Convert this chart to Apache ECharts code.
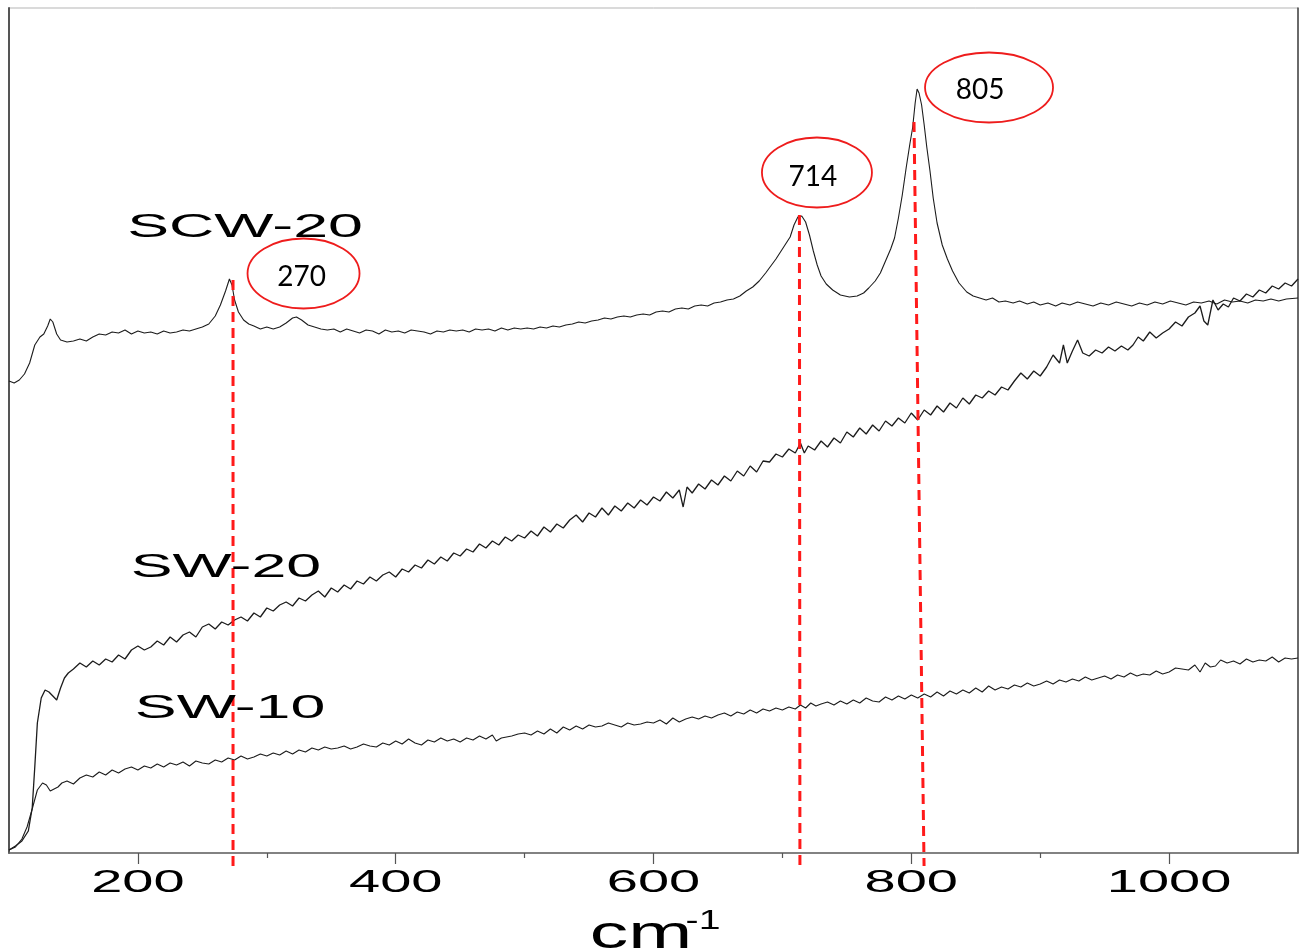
<!DOCTYPE html>
<html>
<head>
<meta charset="utf-8">
<script src="https://cdn.jsdelivr.net/npm/echarts@6/dist/echarts.min.js"></script>
<style>
html, body { margin: 0; padding: 0; background: #fff; }
#chart { width: 1304px; height: 949px; }
</style>
</head>
<body>
<div id="chart"></div>
<script>
// ---- data (wavenumber cm-1, intensity a.u.) ----
const scw20 = [
  [100,472],[104,470],[108,473],[112,479],[116,490],[120,508],[124,516],[127,519],[130,527],[132,534],[134,531],[137,519],[140,513],[145,511],[150,512],[155,514],[160,512],[165,516],[170,519],[175,518],[180,521],[185,520],[190,523],[195,519],[200,522],[205,520],[210,521],[215,519],[220,522],[225,520],[230,521],[235,523],[240,522],[245,524],[250,526],[255,529],[260,537],[264,548],[268,562],[271,574],[273,568],[275,553],[278,541],[282,533],[286,529],[290,527],[295,524],[300,526],[305,524],[310,526],[315,530],[320,535],[323,536],[327,533],[332,528],[337,526],[342,524],[347,523],[352,524],[357,521],[362,524],[367,522],[372,520],[377,523],[382,522],[387,519],[392,523],[397,521],[402,522],[407,520],[412,523],[417,522],[422,521],[427,519],[432,522],[437,521],[442,523],[447,522],[452,523],[457,521],[462,524],[467,523],[472,524],[477,522],[482,525],[487,523],[492,525],[497,524],
  [502,525],[507,524],[512,526],[517,525],[522,527],[527,526],[532,528],[537,529],[542,531],[547,530],[552,532],[557,533],[562,535],[567,534],[572,536],[577,537],[582,536],[587,538],[592,539],[597,538],[602,541],[607,542],[612,541],[617,544],[622,545],[627,544],[632,547],[637,548],[642,547],[647,550],[652,551],[657,553],[662,554],[667,557],[672,562],[677,566],[682,572],[687,580],[691,587],[695,594],[698,600],[702,608],[706,616],[709,628],[712,636],[715,637],[718,631],[721,618],[724,602],[727,588],[730,577],[734,569],[739,563],[745,558],[752,556],[758,557],[763,560],[767,565],[772,572],[776,580],[780,592],[784,604],[787,615],[790,635],[793,658],[796,685],[799,710],[801,725],[803,750],[804.5,764],[806,760],[808,748],[810,728],[812,706],[814.5,682],[817,655],[820,630],[824,608],[828,594],[832,582],[837,570],[843,561],[848,557],[853,555],[858,553],[863,555],[868,551],[873,552],[879,550],[884,552],[890,549],[895,551],[900,548],
  [906,550],[912,547],[917,550],[923,548],[929,551],[935,549],[941,547],[947,550],[953,548],[959,551],[965,549],[971,547],[977,550],[983,548],[989,551],[995,549],[1001,552],[1007,550],[1013,548],[1019,551],[1025,550],[1031,552],[1037,549],[1043,553],[1049,551],[1055,552],[1061,550],[1067,553],[1073,552],[1079,554],[1085,552],[1091,554],[1100,555]
]

const sw20 = [
  [100,3],[105,7],[110,12],[115,22],[118,45],[120,86],[122,130],[125,155],[128,163],[131,161],[134,157],[137,153],[140,165],[143,175],[146,180],[150,184],[155,190],[160,186],[165,192],[170,188],[175,194],[180,191],[185,198],[190,194],[195,203],[200,207],[205,203],[210,206],[215,212],[220,208],[225,216],[230,211],[235,218],[240,221],[245,216],[250,226],[255,229],[260,224],[265,231],[270,228],[275,233],[280,236],[285,232],[290,240],[295,236],[300,245],[305,242],[310,248],[315,251],[320,247],[325,255],[330,252],[335,258],[340,262],[345,256],[350,265],[355,261],[360,268],[365,264],[370,272],[375,269],[380,276],[385,272],[390,278],[395,281],[400,276],
  [405,284],[410,281],[415,288],[420,285],[425,293],[430,289],[435,296],[440,292],[445,300],[450,297],[455,304],[460,301],[465,309],[470,305],[475,312],[480,308],[485,316],[490,312],[495,318],[500,315],[505,322],[510,317],[515,326],[520,321],[525,329],[530,325],[535,333],[540,338],[545,331],[550,340],[555,336],[560,345],[565,338],[570,347],[575,342],[580,350],[585,345],[590,353],[595,348],[600,356],[605,352],[610,361],[615,355],[620,363],[623,346],[626,366],[630,360],[635,369],[640,364],[645,373],[650,368],[655,377],[660,372],[665,382],[670,377],[675,387],[680,381],[685,392],[690,391],[695,399],[700,396],[705,404],[710,400],
  [714,410],[717,400],[720,407],[725,403],[730,412],[735,406],[740,415],[745,410],[750,421],[755,416],[760,425],[765,419],[770,428],[775,422],[780,432],[785,427],[790,435],[795,430],[800,440],[805,433],[810,443],[815,438],[820,447],[825,441],[830,450],[835,445],[840,455],[845,449],[850,458],[855,455],[860,462],[865,458],[870,466],[875,463],[880,472],[885,480],[890,474],[895,482],[900,477],[905,486],[910,498],[915,490],[918,508],[921,490],[925,502],[929,513],[933,500],[938,497],[943,503],[948,500],[953,506],[958,502],[963,507],[968,503],[972,508],[976,516],[980,512],[985,521],[990,515],[995,520],[1000,524],
  [1005,531],[1010,527],[1015,536],[1020,540],[1024,547],[1027,532],[1030,528],[1034,553],[1038,543],[1042,549],[1046,546],[1050,555],[1055,552],[1060,559],[1065,556],[1070,563],[1075,560],[1080,567],[1085,564],[1090,570],[1095,567],[1100,574]
]

const sw10 = [
  [100,3],[105,6],[110,14],[114,26],[118,44],[122,63],[126,70],[129,68],[132,62],[135,64],[138,66],[141,70],[145,72],[150,69],[155,75],[160,78],[165,76],[170,81],[175,78],[180,83],[185,80],[190,84],[195,86],[200,83],[205,87],[210,85],[215,89],[220,86],[225,90],[230,88],[235,91],[240,87],[245,92],[250,90],[255,89],[260,93],[265,91],[270,95],[275,93],[280,97],[285,94],[290,96],[295,99],[300,97],[305,100],[310,98],[315,102],[320,99],[325,103],[330,101],[335,105],[340,103],[345,106],[350,104],[355,105],[360,107],[365,104],[370,106],[375,109],[380,107],[385,106],[390,110],[395,108],[400,112],
  [405,109],[410,114],[415,110],[420,108],[425,113],[430,111],[435,115],[440,112],[445,114],[450,111],[455,115],[460,113],[465,117],[470,114],[475,118],[478,112],[482,115],[486,116],[490,117],[495,119],[500,120],[505,118],[510,122],[515,119],[520,124],[525,120],[530,126],[535,123],[540,127],[545,124],[550,128],[555,126],[560,127],[565,130],[570,128],[575,126],[580,130],[585,128],[590,129],[595,131],[600,130],[605,133],[610,129],[615,135],[620,131],[625,134],[630,136],[635,134],[640,137],[645,135],[650,138],[655,140],[660,137],[665,141],[670,139],[675,143],[680,140],[685,144],[690,142],[695,145],[700,143],[705,146],[710,144],
  [714,148],[718,145],[722,150],[726,147],[730,149],[735,151],[740,148],[745,152],[750,149],[755,153],[760,150],[765,155],[770,152],[775,151],[780,156],[785,153],[790,157],[795,154],[800,158],[805,155],[810,159],[815,156],[820,161],[825,157],[830,162],[835,159],[840,163],[845,160],[850,165],[855,161],[860,167],[865,163],[870,166],[875,164],[880,168],[885,166],[890,170],[895,167],[900,169],[905,172],[910,169],[915,173],[920,171],[925,174],[930,172],[935,176],[940,173],[945,175],[950,177],[955,174],[960,178],[965,176],[970,180],[975,177],[980,179],[985,178],[990,182],[995,179],[1000,181],
  [1005,185],[1010,184],[1015,183],[1020,188],[1024,181],[1028,190],[1032,186],[1036,187],[1040,193],[1045,190],[1050,192],[1055,189],[1060,194],[1065,191],[1070,193],[1075,192],[1080,196],[1085,191],[1090,195],[1095,194],[1100,195]
]

const seriesNames = ['SCW-20', 'SW-20', 'SW-10']
const majorTicks = [200, 400, 600, 800, 1000]
const minorTicks = [300, 500, 700, 900]
const axisName = 'cm'
const axisNameSup = '-1'

// peak markers: label, dashed line top / bottom (wn, intensity)
const peakLabels = ['270', '714', '805']
const peakLineTop = [[273.8, 573], [713.2, 638], [802.1, 731]]
const peakLineBottom = [[273.8, -14], [713.6, -16], [809.9, -13]]

// ---- layout ----
const bubbleAt = [[328.5, 579.5], [726.8, 680.5], [860.3, 765.5]]
const bubbleSize = [[56, 35], [55, 35], [64, 35]] // rx, ry px
const bubbleTextShift = [[-2, 3], [-4, 4], [-9, 2]]
const tagAt = [[283.1, 625], [268.3, 285], [271.5, 144]]

const chart = echarts.init(document.getElementById('chart'))

const lineStyle = { color: '#1c1c1c', width: 1.1 }
const option = {
  animation: false,
  backgroundColor: '#fff',
  grid: {
    left: 9,
    top: 8,
    right: 6,
    bottom: 96,
    show: true,
    borderColor: '#b5b5b5',
    borderWidth: 1
  },
  xAxis: [
    {
      type: 'value',
      min: 100,
      max: 1100,
      position: 'bottom',
      axisLine: { show: true, onZero: false, lineStyle: { color: '#666', width: 1.5 } },
      axisTick: { show: true, customValues: majorTicks, length: 11, lineStyle: { color: '#555', width: 1.2 } },
      axisLabel: { show: false },
      splitLine: { show: false }
    },
    {
      // short ticks in between
      type: 'value',
      min: 100,
      max: 1100,
      position: 'bottom',
      axisLine: { show: false, onZero: false },
      axisTick: { show: true, customValues: minorTicks, length: 5, lineStyle: { color: '#555', width: 1.2 } },
      axisLabel: { show: false },
      splitLine: { show: false }
    }
  ],
  yAxis: [
    {
      type: 'value',
      min: 0,
      max: 845,
      position: 'left',
      axisLine: { show: true, onZero: false, lineStyle: { color: '#555', width: 2 } },
      axisTick: { show: false },
      axisLabel: { show: false },
      splitLine: { show: false }
    },
    {
      type: 'value',
      min: 0,
      max: 845,
      position: 'right',
      axisLine: { show: true, onZero: false, lineStyle: { color: '#444', width: 1.5 } },
      axisTick: { show: false },
      axisLabel: { show: false },
      splitLine: { show: false }
    }
  ],
  series: [
    { name: seriesNames[0], type: 'line', data: scw20, showSymbol: false, lineStyle: lineStyle, silent: true },
    { name: seriesNames[1], type: 'line', data: sw20, showSymbol: false, lineStyle: { color: '#1c1c1c', width: 1.3 }, silent: true },
    { name: seriesNames[2], type: 'line', data: sw10, showSymbol: false, lineStyle: lineStyle, silent: true }
  ]
}
chart.setOption(option)

// annotations placed through the axes
function toPx(p) {
  return chart.convertToPixel({ xAxisIndex: 0, yAxisIndex: 0 }, p)
}
const wideFont = '"Liberation Sans", Arial, sans-serif'
const g = []

peakLineTop.forEach((top, i) => {
  const a = toPx(top)
  const b = toPx(peakLineBottom[i])
  g.push({
    type: 'line',
    z: 10,
    shape: { x1: a[0], y1: a[1], x2: b[0], y2: b[1] },
    style: { stroke: '#ff1a1a', lineWidth: 3, lineDash: [10, 6] }
  })
})

peakLabels.forEach((txt, i) => {
  const c = toPx(bubbleAt[i])
  g.push({
    type: 'ellipse',
    z: 11,
    shape: { cx: c[0], cy: c[1], rx: bubbleSize[i][0], ry: bubbleSize[i][1] },
    style: { fill: 'transparent', stroke: '#ee1c1c', lineWidth: 1.8 }
  })
  g.push({
    type: 'text',
    z: 12,
    x: c[0] + bubbleTextShift[i][0],
    y: c[1] + bubbleTextShift[i][1],
    style: { text: txt, font: '28px Lato, "Open Sans", sans-serif', fill: '#000', align: 'center', verticalAlign: 'middle' }
  })
})

seriesNames.forEach((name, i) => {
  const c = toPx(tagAt[i])
  g.push({
    type: 'text',
    z: 12,
    x: c[0],
    y: c[1],
    scaleX: 1.9,
    style: { text: name, font: '33px ' + wideFont, fill: '#000', align: 'center', verticalAlign: 'middle' }
  })
})

majorTicks.forEach(v => {
  const p = toPx([v, 0])
  g.push({
    type: 'text',
    z: 12,
    x: p[0],
    y: p[1] + 30,
    scaleX: 1.75,
    style: { text: String(v), font: '32px ' + wideFont, fill: '#000', align: 'center', verticalAlign: 'middle' }
  })
})

// axis name cm^-1
g.push({
  type: 'text',
  z: 12,
  x: 641,
  y: 935,
  scaleX: 1.67,
  style: { text: axisName, font: '46px ' + wideFont, fill: '#000', align: 'center', verticalAlign: 'middle' }
})
g.push({
  type: 'text',
  z: 12,
  x: 703,
  y: 921,
  scaleX: 1.4,
  style: { text: axisNameSup, font: '28px ' + wideFont, fill: '#000', align: 'center', verticalAlign: 'middle' }
})

chart.setOption({ graphic: g })
</script>
</body>
</html>
